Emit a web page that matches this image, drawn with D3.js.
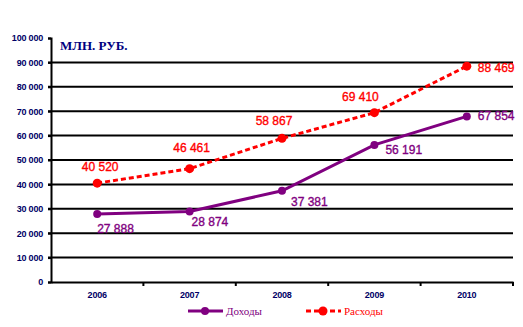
<!DOCTYPE html>
<html>
<head>
<meta charset="utf-8">
<script src="https://cdn.jsdelivr.net/npm/d3@7"></script>
<style>
  html, body { margin: 0; padding: 0; background: #fff; }
  svg { display: block; }
</style>
</head>
<body>
<svg id="chart" width="523" height="327"></svg>
<script>
// Годы и значения (млн. руб.)
const years = ["2006", "2007", "2008", "2009", "2010"];
const incomes = [27888, 28874, 37381, 56191, 67854];   // Доходы
const expenses = [40520, 46461, 58867, 69410, 88469];  // Расходы
const yTicks = [0, 10000, 20000, 30000, 40000, 50000, 60000, 70000, 80000, 90000, 100000];

// Смещения подписей значений относительно точек: [dx, dy, text-anchor]
const incomeLabelOffsets = [[0, 19, "start"], [2, 14, "start"], [9, 15, "start"], [11, 9, "start"], [11, 4, "start"]];
const expenseLabelOffsets = [[3, -12, "middle"], [2, -17, "middle"], [-8, -13, "middle"], [-14, -12, "middle"], [11, 6, "start"]];

const svg = d3.select("#chart");
const plotLeft = 51, plotRight = 513, plotTop = 38, plotBottom = 282;

const x = d3.scaleBand().domain(years).range([plotLeft, plotRight]);
const y = d3.scaleLinear().domain([0, 100000]).range([plotBottom, plotTop]);
const cx = d => x(d) + x.bandwidth() / 2;

const fmt = v => d3.format(",")(v).replace(/,/g, " ");
const axisColor = "#000066";

// Горизонтальные линии сетки
svg.append("g").selectAll("line")
  .data(yTicks.filter(t => t > 0 && t < 100000))
  .join("line")
  .attr("x1", plotLeft - 3).attr("x2", plotRight)
  .attr("y1", d => y(d)).attr("y2", d => y(d))
  .attr("stroke", "#000").attr("stroke-width", 2);

// Ось Y
const yAxis = d3.axisLeft(y).tickValues(yTicks).tickSize(3).tickPadding(5).tickFormat(fmt);
const gy = svg.append("g").attr("transform", `translate(${plotLeft},0)`).call(yAxis);
gy.select(".domain").attr("stroke", "#000").attr("stroke-width", 2);
gy.selectAll(".tick line").attr("stroke", "#000").attr("stroke-width", 2);
gy.selectAll(".tick text")
  .attr("fill", axisColor)
  .attr("font-family", "'Liberation Sans', Arial, sans-serif")
  .attr("font-weight", "bold")
  .attr("font-size", "9px")
  .attr("letter-spacing", "-0.2px");

// Ось X
const xAxis = d3.axisBottom(x).tickSize(0).tickPadding(10);
const gx = svg.append("g").attr("transform", `translate(0,${plotBottom})`).call(xAxis);
gx.select(".domain").attr("stroke", "#000").attr("stroke-width", 2);
gx.selectAll(".tick text")
  .attr("fill", axisColor)
  .attr("font-family", "'Liberation Sans', Arial, sans-serif")
  .attr("font-weight", "bold")
  .attr("font-size", "9px")
  .attr("letter-spacing", "-0.2px");
// Засечки на границах категорий
svg.append("g").selectAll("line")
  .data(years)
  .join("line")
  .attr("x1", d => x(d) + x.bandwidth())
  .attr("x2", d => x(d) + x.bandwidth())
  .attr("y1", plotBottom).attr("y2", plotBottom + 4)
  .attr("stroke", "#000").attr("stroke-width", 2);

// Заголовок оси
svg.append("text")
  .attr("x", 60).attr("y", 50)
  .attr("fill", "#000080")
  .attr("font-family", "'Liberation Serif', 'Times New Roman', serif")
  .attr("font-weight", "bold")
  .attr("font-size", "13px")
  .text("МЛН. РУБ.");

const series = [
  { name: "Доходы", values: incomes, color: "#800080", dash: null, r: 4, offsets: incomeLabelOffsets },
  { name: "Расходы", values: expenses, color: "#FF0000", dash: "5,3", r: 4.5, offsets: expenseLabelOffsets }
];

const line = d3.line().x(d => cx(d.year)).y(d => y(d.value));

series.forEach(s => {
  const pts = years.map((yr, i) => ({ year: yr, value: s.values[i], off: s.offsets[i] }));
  const g = svg.append("g");
  g.append("path")
    .datum(pts)
    .attr("d", line)
    .attr("fill", "none")
    .attr("stroke", s.color)
    .attr("stroke-width", 3)
    .attr("stroke-dasharray", s.dash);
  g.selectAll("circle")
    .data(pts)
    .join("circle")
    .attr("cx", d => cx(d.year))
    .attr("cy", d => y(d.value))
    .attr("r", s.r)
    .attr("fill", s.color);
  g.selectAll("text")
    .data(pts)
    .join("text")
    .attr("x", d => cx(d.year) + d.off[0])
    .attr("y", d => y(d.value) + d.off[1])
    .attr("text-anchor", d => d.off[2])
    .attr("fill", s.color)
    .attr("stroke", s.color)
    .attr("stroke-width", 0.35)
    .attr("font-family", "'Liberation Sans', Arial, sans-serif")
    .attr("font-size", "12px")
    .text(d => fmt(d.value));
});

// Легенда
const legendItems = [
  { s: series[0], x: 188 },
  { s: series[1], x: 306 }
];
const ly = 311;
legendItems.forEach(item => {
  const g = svg.append("g");
  g.append("line")
    .attr("x1", item.x).attr("x2", item.x + 35)
    .attr("y1", ly).attr("y2", ly)
    .attr("stroke", item.s.color).attr("stroke-width", 3)
    .attr("stroke-dasharray", item.s.dash);
  g.append("circle")
    .attr("cx", item.x + 17).attr("cy", ly).attr("r", item.s.r)
    .attr("fill", item.s.color);
  g.append("text")
    .attr("x", item.x + 38).attr("y", ly + 4)
    .attr("fill", item.s.color)
    .attr("font-family", "'Liberation Serif', 'Times New Roman', serif")
    .attr("font-size", "11px")
    .text(item.s.name);
});
</script>
</body>
</html>
